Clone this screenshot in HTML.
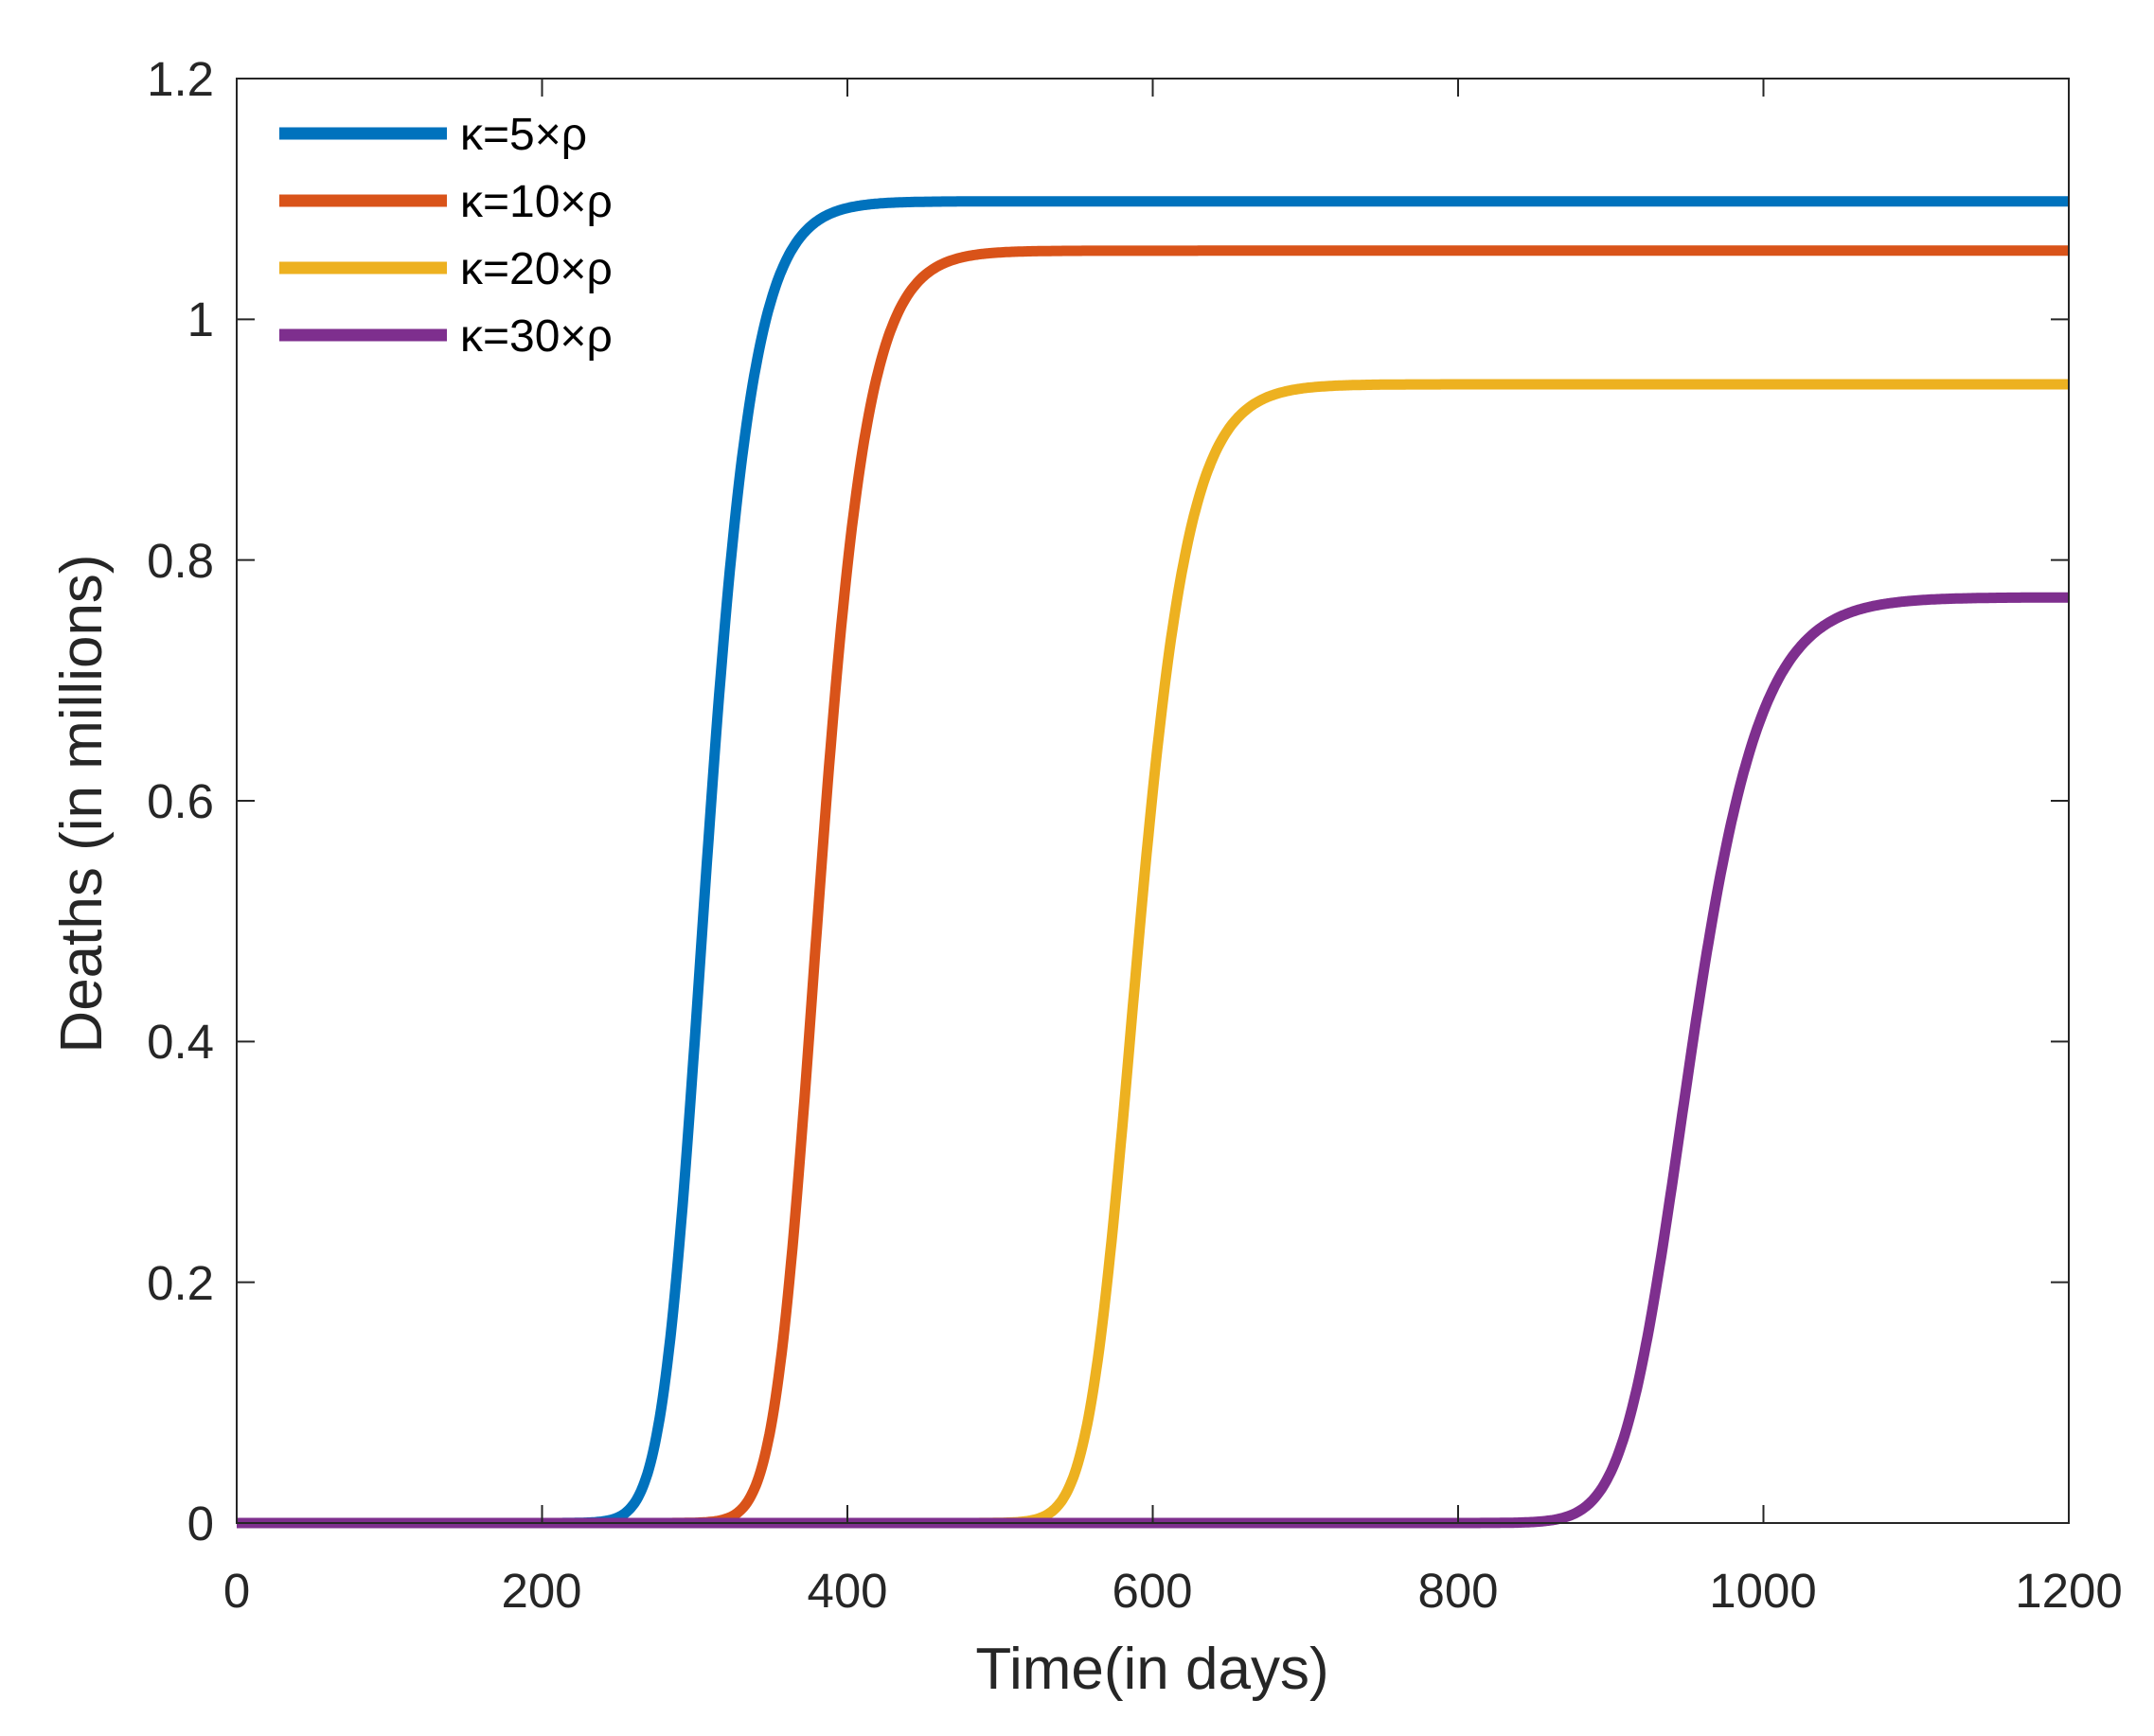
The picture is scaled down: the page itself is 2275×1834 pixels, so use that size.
<!DOCTYPE html>
<html><head><meta charset="utf-8"><style>
html,body{margin:0;padding:0;background:#fff;}
svg{display:block;font-family:"Liberation Sans",Arial,sans-serif;}
</style></head><body>
<svg id="s" width="2275" height="1834" viewBox="0 0 2275 1834" xmlns="http://www.w3.org/2000/svg">
<rect width="2275" height="1834" fill="#fff"/>
<g id="curves" fill="none" stroke-width="11" stroke-linejoin="round"></g>
<rect x="250" y="83" width="1935" height="1526" fill="none" stroke="#262626" stroke-width="2"/>
<g id="ticks" stroke="#262626" stroke-width="2"></g>
<g fill="#262626" font-size="51" text-anchor="end">
<text x="226" y="101">1.2</text>
<text x="226" y="355">1</text>
<text x="226" y="610">0.8</text>
<text x="226" y="864">0.6</text>
<text x="226" y="1118">0.4</text>
<text x="226" y="1373">0.2</text>
<text x="226" y="1627">0</text>
</g>
<g fill="#262626" font-size="51" text-anchor="middle">
<text x="250" y="1698">0</text>
<text x="572" y="1698">200</text>
<text x="895" y="1698">400</text>
<text x="1217" y="1698">600</text>
<text x="1540" y="1698">800</text>
<text x="1862" y="1698">1000</text>
<text x="2185" y="1698">1200</text>
</g>
<text x="1217" y="1784" font-size="62" text-anchor="middle" fill="#262626">Time(in days)</text>
<text transform="translate(107,849) rotate(-90)" font-size="62" text-anchor="middle" fill="#262626">Deaths (in millions)</text>
<g stroke-width="13">
<line x1="295" y1="141" x2="472" y2="141" stroke="#0072BD"/>
<line x1="295" y1="212" x2="472" y2="212" stroke="#D95319"/>
<line x1="295" y1="283" x2="472" y2="283" stroke="#EDB120"/>
<line x1="295" y1="354" x2="472" y2="354" stroke="#7E2F8E"/>
</g>
<g font-size="48" fill="#000">
<text x="486" y="158">κ=5×ρ</text>
<text x="486" y="229">κ=10×ρ</text>
<text x="486" y="300">κ=20×ρ</text>
<text x="486" y="371">κ=30×ρ</text>
</g>
</svg>
<script>
var X=function(d){return 250+d*1935/1200},Y=function(v){return 1609-v*1526/1.2};
var nu=0.4,c=Math.pow(2,nu)-1;
var series=[[1.098,308,0.055,"#0072BD"],[1.057,382,0.054,"#D95319"],[0.946,590,0.05,"#EDB120"],[0.769,952,0.037,"#7E2F8E"]];
var g=document.getElementById("curves"),ns="http://www.w3.org/2000/svg";
series.forEach(function(s){var d="";for(var t=0;t<=1200;t+=1){var v=s[0]*Math.pow(1+c*Math.exp(-s[2]*(t-s[1])),-1/nu);d+=(t?"L":"M")+X(t).toFixed(1)+" "+Y(v).toFixed(1);}
var p=document.createElementNS(ns,"path");p.setAttribute("d",d);p.setAttribute("stroke",s[3]);g.appendChild(p);});
var tk=document.getElementById("ticks"),h="";
for(var i=0;i<=6;i++){var x=X(i*200);h+='<line x1="'+x+'" y1="1609" x2="'+x+'" y2="1590"/><line x1="'+x+'" y1="83" x2="'+x+'" y2="102"/>';
var y=Y(i*0.2);h+='<line x1="250" y1="'+y+'" x2="269" y2="'+y+'"/><line x1="2185" y1="'+y+'" x2="2166" y2="'+y+'"/>';}
tk.innerHTML=h;
</script>
</body></html>
